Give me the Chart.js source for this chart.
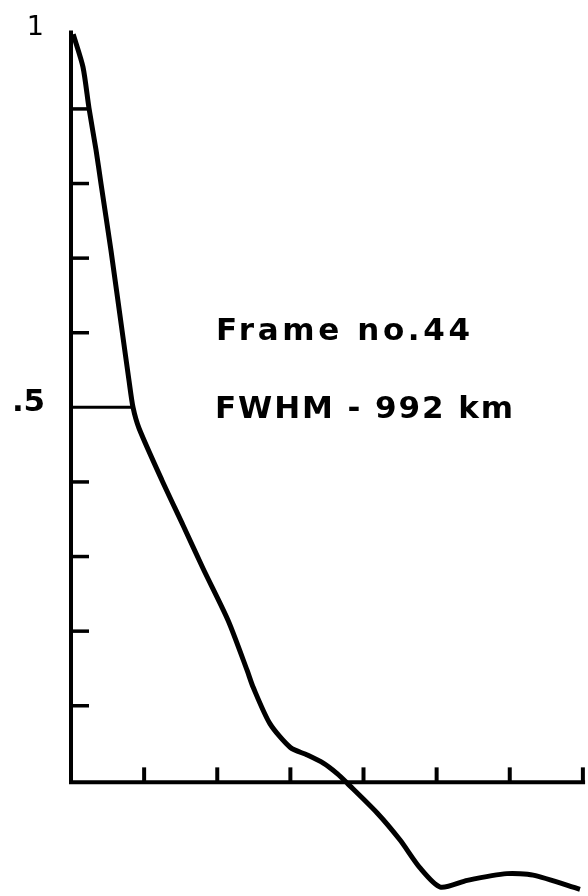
<!DOCTYPE html>
<html>
<head>
<meta charset="utf-8">
<script src="https://cdn.jsdelivr.net/npm/chart.js@4/dist/chart.umd.min.js"></script>
<style>
  body { margin: 0; background: #fff; }
  #profile-chart { display: block; }
</style>
</head>
<body>
<canvas id="profile-chart" width="588" height="896"></canvas>
<script>
// intensity profile (x in tick units, y normalised to peak)
const profileX = [0.03, 0.164, 0.246, 0.342, 0.41, 0.547, 0.698, 0.793, 0.848, 0.93, 1.245, 1.532, 1.806, 2.15, 2.41, 2.49, 2.72, 3.00, 3.23, 3.45, 3.64, 3.78, 4.19, 4.50, 4.77, 5.05, 5.42, 5.96, 6.32, 6.96];
const profileY = [1.00, 0.956, 0.901, 0.845, 0.80, 0.71, 0.603, 0.536, 0.50, 0.472, 0.402, 0.342, 0.284, 0.214, 0.147, 0.125, 0.076, 0.044, 0.034, 0.023, 0.009, -0.004, -0.044, -0.080, -0.117, -0.143, -0.134, -0.125, -0.127, -0.146];

// half maximum marker
const halfMaxX = [0, 0.848];
const halfMaxY = [0.5, 0.5];

const yTickValues = [0.1, 0.2, 0.3, 0.4, 0.6, 0.7, 0.8, 0.9];
const xTickValues = [1, 2, 3, 4, 5, 6, 7];
const yAxisLabels = [{ text: "1", value: 1.0 }, { text: ".5", value: 0.5 }];
const noteLines = ["Frame no.44", "FWHM - 992 km"];

document.addEventListener("DOMContentLoaded", function() {
  const ctx = document.getElementById("profile-chart").getContext("2d");
  const ink = "#000";

  function toPoints(xs, ys) {
    return xs.map(function(x, i) { return { x: x, y: ys[i] }; });
  }

  // left-aligned text stretched to a given width
  function spacedText(c, text, x, y, width) {
    c.textAlign = "left";
    c.letterSpacing = "0px";
    const natural = c.measureText(text).width;
    const gap = (width - natural) / (text.length - 1);
    c.letterSpacing = gap + "px";
    c.fillText(text, x, y);
    c.letterSpacing = "0px";
  }

  const axesPlugin = {
    id: "handAxes",
    afterDatasetsDraw: function(chart) {
      const c = chart.ctx;
      const xs = chart.scales.x;
      const ys = chart.scales.y;
      const x0 = xs.getPixelForValue(0);
      const y0 = ys.getPixelForValue(0);
      c.save();
      c.strokeStyle = ink;
      c.lineCap = "butt";

      // axes
      c.lineWidth = 4;
      c.beginPath();
      c.moveTo(x0, ys.getPixelForValue(1.005));
      c.lineTo(x0, y0 + 2);
      c.lineTo(xs.getPixelForValue(7.03), y0 + 2);
      c.stroke();

      // y ticks pointing inward
      c.lineWidth = 3.5;
      yTickValues.forEach(function(v) {
        const py = ys.getPixelForValue(v);
        c.beginPath();
        c.moveTo(x0, py);
        c.lineTo(x0 + 18, py);
        c.stroke();
      });

      // x ticks pointing up
      c.lineWidth = 4;
      xTickValues.forEach(function(v) {
        const px = xs.getPixelForValue(v);
        c.beginPath();
        c.moveTo(px, y0 + 1);
        c.lineTo(px, y0 - 13);
        c.stroke();
      });

      // axis labels
      c.fillStyle = ink;
      c.textBaseline = "alphabetic";
      c.textAlign = "right";
      c.font = "27px 'DejaVu Sans'";
      c.fillText(yAxisLabels[0].text, 44, ys.getPixelForValue(yAxisLabels[0].value) + 1);
      c.font = "bold 31px 'DejaVu Sans'";
      spacedText(c, yAxisLabels[1].text, 12, ys.getPixelForValue(yAxisLabels[1].value) + 4, 33);

      // annotation
      c.font = "bold 31px 'DejaVu Sans'";
      spacedText(c, noteLines[0], 216, 340, 254);
      spacedText(c, noteLines[1], 215, 418, 298);
      c.restore();
    }
  };

  new Chart(ctx, {
    type: "line",
    data: {
      datasets: [{
        data: toPoints(profileX, profileY),
        borderColor: ink,
        borderWidth: 5,
        pointRadius: 0,
        tension: 0.25,
        fill: false
      }, {
        data: toPoints(halfMaxX, halfMaxY),
        borderColor: ink,
        borderWidth: 3,
        pointRadius: 0,
        tension: 0,
        fill: false
      }]
    },
    options: {
      responsive: false,
      animation: false,
      devicePixelRatio: 1,
      layout: { padding: 0 },
      plugins: { legend: { display: false }, tooltip: { enabled: false } },
      scales: {
        x: { type: "linear", min: -0.971, max: 7.07, display: false },
        y: { type: "linear", min: -0.155, max: 1.046, display: false }
      }
    },
    plugins: [axesPlugin]
  });
});
</script>
</body>
</html>
